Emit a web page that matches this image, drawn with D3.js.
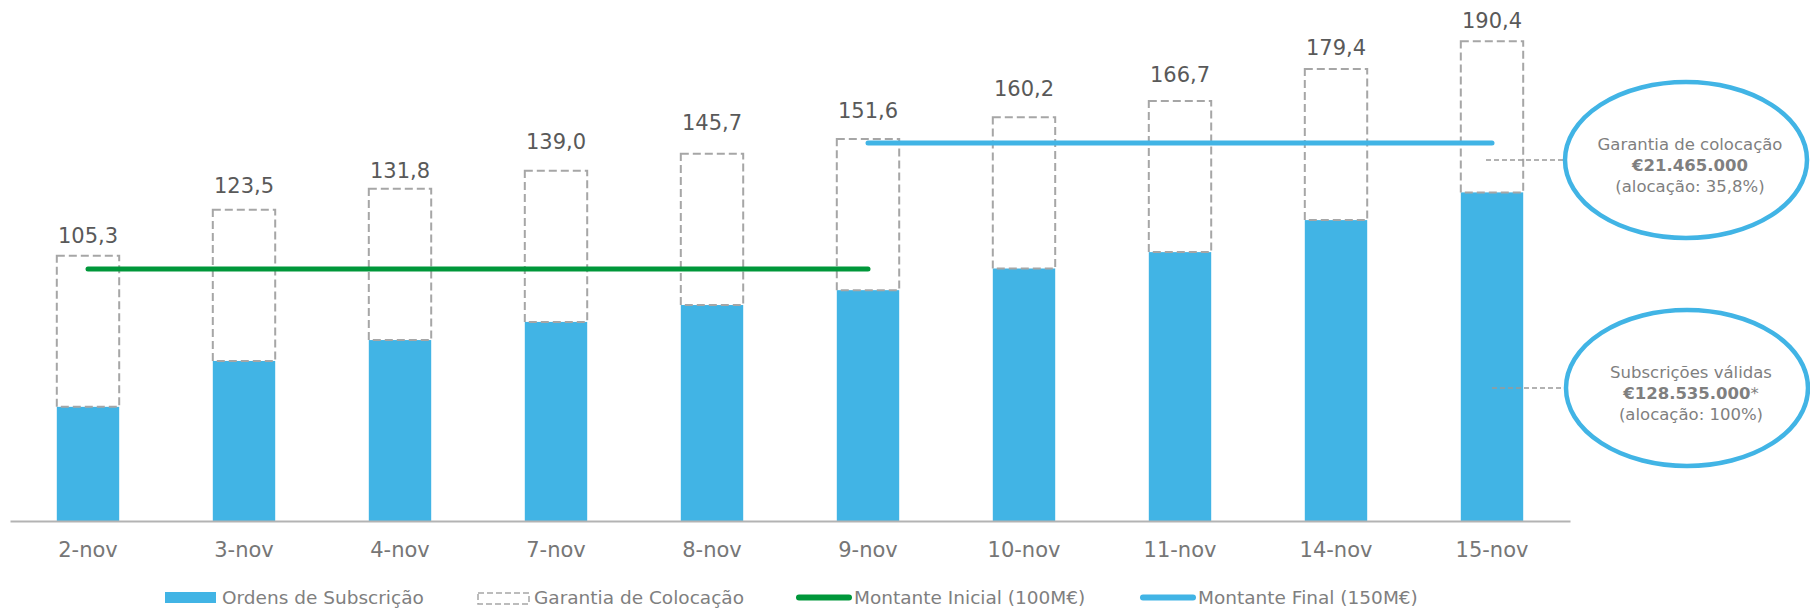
<!DOCTYPE html>
<html>
<head>
<meta charset="utf-8">
<script src="https://cdn.jsdelivr.net/npm/d3@7"></script>
<style>
  body { margin: 0; background: #fff; }
  svg { display: block; font-family: Verdana, "DejaVu Sans", sans-serif; }
</style>
</head>
<body>
<svg id="chart" width="1810" height="608"></svg>
<script>
// dados
const days = ["2-nov", "3-nov", "4-nov", "7-nov", "8-nov", "9-nov", "10-nov", "11-nov", "14-nov", "15-nov"];
const totals = [105.3, 123.5, 131.8, 139.0, 145.7, 151.6, 160.2, 166.7, 179.4, 190.4];
const guarantee = [60, 60, 60, 60, 60, 60, 60, 60, 60, 60];
const orders = totals.map((t, i) => +(t - guarantee[i]).toFixed(1));
const targets = [
  { name: "Montante Inicial (100M€)", value: 100, from: "2-nov", to: "9-nov", color: "#00973a" },
  { name: "Montante Final (150M€)", value: 150, from: "9-nov", to: "15-nov", color: "#41b4e5" }
];
const legendNames = ["Ordens de Subscrição", "Garantia de Colocação"];

// layout
const labelGap = [13, 17, 11, 22, 24, 21, 21, 19, 14, 13]; // distância do rótulo ao topo da caixa
const BLUE = "#41b4e5";
const DASH = "#a6a6a6";

const svg = d3.select("#chart");

const x = d3.scaleBand().domain(days).range([10, 1570]).paddingInner(0.6).paddingOuter(0.3);
const y = d3.scaleLinear().domain([0, 200]).range([521, 17]);

const data = days.map((d, i) => ({ day: d, total: totals[i], orders: orders[i], gap: labelGap[i] }));

// barras (ordens)
svg.append("g")
  .selectAll("rect")
  .data(data)
  .join("rect")
  .attr("x", (d) => x(d.day))
  .attr("y", (d) => y(d.orders))
  .attr("width", x.bandwidth())
  .attr("height", (d) => y(0) - y(d.orders))
  .attr("fill", BLUE);

// garantia (caixa tracejada)
svg.append("g")
  .selectAll("rect")
  .data(data)
  .join("rect")
  .attr("x", (d) => x(d.day))
  .attr("y", (d) => y(d.total))
  .attr("width", x.bandwidth())
  .attr("height", (d) => y(d.orders) - y(d.total))
  .attr("fill", "none")
  .attr("stroke", DASH)
  .attr("stroke-width", 2)
  .attr("stroke-dasharray", "8,4");

// valores
svg.append("g")
  .selectAll("text")
  .data(data)
  .join("text")
  .attr("x", (d) => x(d.day) + x.bandwidth() / 2)
  .attr("y", (d) => y(d.total) - d.gap)
  .attr("text-anchor", "middle")
  .attr("font-size", "21px")
  .attr("fill", "#595959")
  .text((d) => d3.format(".1f")(d.total).replace(".", ","));

// eixo
const axis = svg.append("g")
  .attr("transform", `translate(0,${y(0)})`)
  .call(d3.axisBottom(x).tickSize(0).tickSizeOuter(0).tickPadding(21));
axis.select(".domain").attr("stroke", "#b3b3b3").attr("stroke-width", 2);
axis.selectAll("text")
  .attr("font-family", "Verdana, 'DejaVu Sans', sans-serif")
  .attr("font-size", "21px")
  .attr("fill", "#767676");

// montantes
svg.append("g")
  .selectAll("line")
  .data(targets)
  .join("line")
  .attr("x1", (d) => x(d.from) + x.bandwidth() / 2)
  .attr("x2", (d) => x(d.to) + x.bandwidth() / 2)
  .attr("y1", (d) => y(d.value))
  .attr("y2", (d) => y(d.value))
  .attr("stroke", (d) => d.color)
  .attr("stroke-width", 5)
  .attr("stroke-linecap", "round");

// anotações
const notes = [
  { cx: 1686, cy: 160, lineX: 1486, lines: ["Garantia de colocação", "€21.465.000", "(alocação: 35,8%)"], star: false },
  { cx: 1687, cy: 388, lineX: 1492, lines: ["Subscrições válidas", "€128.535.000", "(alocação: 100%)"], star: true }
];

const note = svg.append("g")
  .selectAll("g")
  .data(notes)
  .join("g");

note.append("line")
  .attr("x1", (d) => d.lineX)
  .attr("x2", (d) => d.cx - 122)
  .attr("y1", (d) => d.cy)
  .attr("y2", (d) => d.cy)
  .attr("stroke", "#999")
  .attr("stroke-width", 1.3)
  .attr("stroke-dasharray", "5,3");

note.append("ellipse")
  .attr("cx", (d) => d.cx)
  .attr("cy", (d) => d.cy)
  .attr("rx", 121)
  .attr("ry", 78)
  .attr("fill", "#fff")
  .attr("stroke", BLUE)
  .attr("stroke-width", 4.5);

note.each(function (d) {
  const g = d3.select(this);
  const t = g.append("text")
    .attr("text-anchor", "middle")
    .attr("font-size", "16.5px")
    .attr("fill", "#7f7f7f");
  t.append("tspan").attr("x", d.cx + 4).attr("y", d.cy - 10).text(d.lines[0]);
  const b = t.append("tspan").attr("x", d.cx + 4).attr("y", d.cy + 11);
  b.append("tspan").attr("font-weight", "bold").text(d.lines[1]);
  if (d.star) b.append("tspan").text("*");
  t.append("tspan").attr("x", d.cx + 4).attr("y", d.cy + 32).text(d.lines[2]);
});

// legenda
const legend = svg.append("g").attr("font-size", "18.5px").attr("fill", "#7f7f7f");

legend.append("rect").attr("x", 165).attr("y", 592).attr("width", 51).attr("height", 11).attr("fill", BLUE);
legend.append("text").attr("x", 222).attr("y", 604).text(legendNames[0]);

legend.append("rect").attr("x", 478).attr("y", 593).attr("width", 51).attr("height", 11)
  .attr("fill", "none").attr("stroke", DASH).attr("stroke-width", 1.5).attr("stroke-dasharray", "6,3");
legend.append("text").attr("x", 534).attr("y", 604).text(legendNames[1]);

const lx = [796, 1140];
targets.forEach((d, i) => {
  legend.append("line")
    .attr("x1", lx[i] + 3).attr("x2", lx[i] + 53)
    .attr("y1", 597.5).attr("y2", 597.5)
    .attr("stroke", d.color).attr("stroke-width", 6).attr("stroke-linecap", "round");
  legend.append("text").attr("x", lx[i] + 58).attr("y", 604).text(d.name);
});
</script>
</body>
</html>
